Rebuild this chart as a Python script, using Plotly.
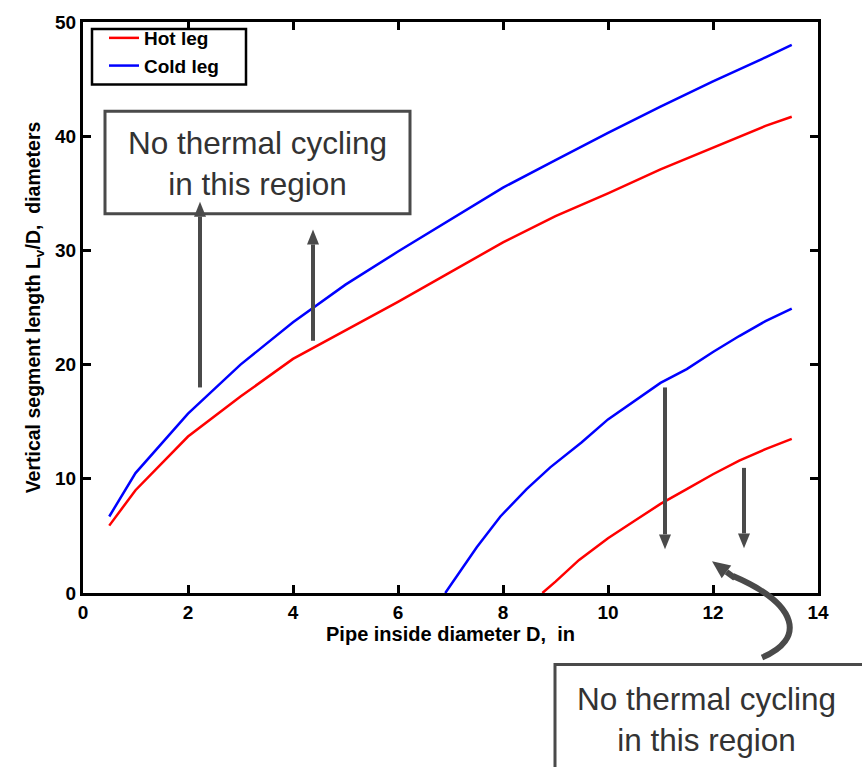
import math
import plotly.graph_objects as go

# ---------------- data ----------------
d_upper = [0.5, 1, 2, 3, 4, 5, 6, 7, 8, 9, 10, 11, 12, 13, 13.5]
hot_upper = [5.9, 9.0, 13.7, 17.2, 20.5, 23.0, 25.5, 28.1, 30.7, 33.0, 35.0, 37.1, 39.0, 40.9, 41.7]
cold_upper = [6.7, 10.5, 15.7, 20.0, 23.7, 27.0, 29.9, 32.7, 35.5, 37.9, 40.3, 42.6, 44.8, 46.9, 48.0]

d_cold_lower = [6.9, 7.5, 7.95, 8.45, 8.9, 9.5, 10.0, 10.5, 11.0, 11.5, 12.0, 12.5, 13.0, 13.5]
cold_lower = [0.0, 4.0, 6.7, 9.1, 11.0, 13.2, 15.2, 16.8, 18.4, 19.6, 21.1, 22.5, 23.8, 24.9]

d_hot_lower = [8.75, 9.0, 9.45, 10.0, 10.5, 11.0, 11.5, 12.0, 12.5, 13.0, 13.5]
hot_lower = [0.0, 1.0, 2.9, 4.8, 6.3, 7.8, 9.1, 10.4, 11.6, 12.6, 13.5]

x_ticks = [0, 2, 4, 6, 8, 10, 12, 14]
y_ticks = [0, 10, 20, 30, 40, 50]

# ---------------- layout geometry ----------------
W, H = 862, 767
ML, MR, MT, MB = 83, 44, 18, 174
PW, PH = W - ML - MR, H - MT - MB


def P(px, py):
    return ((px - ML) / PW, (H - MB - py) / PH)


GRAY = "#4a4a4a"
FONT = "Liberation Sans, Arial, Helvetica, sans-serif"
fig = go.Figure()

fig.add_trace(go.Scatter(
    x=d_upper + [None] + d_hot_lower, y=hot_upper + [None] + hot_lower,
    mode="lines", name="Hot leg", line=dict(color="#ff0000", width=2.5)))
fig.add_trace(go.Scatter(
    x=d_upper + [None] + d_cold_lower, y=cold_upper + [None] + cold_lower,
    mode="lines", name="Cold leg", line=dict(color="#0000ff", width=2.5)))

shapes = []
annotations = []


def box(px0, py0, px1, py1, color=GRAY, width=3):
    x0, y0 = P(px0, py0)
    x1, y1 = P(px1, py1)
    shapes.append(dict(type="rect", xref="paper", yref="paper", x0=x0, y0=y0, x1=x1, y1=y1,
                       line=dict(color=color, width=width), fillcolor="white", layer="above"))


def arrow(px0, py0, px1, py1, width=4, hl=15, hw=6):
    dx, dy = px1 - px0, py1 - py0
    L = math.hypot(dx, dy)
    ux, uy = dx / L, dy / L
    bx, by = px1 - ux * hl, py1 - uy * hl
    a = P(px0, py0)
    b = P(bx, by)
    shapes.append(dict(type="line", xref="paper", yref="paper", x0=a[0], y0=a[1], x1=b[0], y1=b[1],
                       line=dict(color=GRAY, width=width), layer="above"))
    nx, ny = -uy, ux
    t = P(px1, py1)
    c1 = P(bx + nx * hw, by + ny * hw)
    c2 = P(bx - nx * hw, by - ny * hw)
    shapes.append(dict(type="path", xref="paper", yref="paper",
                       path=f"M {t[0]},{t[1]} L {c1[0]},{c1[1]} L {c2[0]},{c2[1]} Z",
                       fillcolor=GRAY, line=dict(color=GRAY, width=0), layer="above"))


# legend frame
box(92, 25, 246, 81, color="black", width=2.5)

# boxes
box(105, 108, 410, 211)
box(555, 665, 880, 790)
for (cx, cy) in [(257, 160), (706, 720)]:
    x, y = P(cx, cy)
    annotations.append(dict(xref="paper", yref="paper", x=x, y=y, showarrow=False,
                            text="No thermal cycling<br>in this region",
                            font=dict(family=FONT, size=31.5, color="#333333"),
                            xanchor="center", yanchor="middle"))

# straight arrows
arrow(200, 386, 200, 199)
arrow(313, 339, 313, 227)
arrow(665, 386, 665, 549)
arrow(744, 467, 744, 548)

# curved arrow
s = P(762, 658)
c1 = P(805, 640)
c2 = P(800, 605)
e = P(733, 576)
shapes.append(dict(type="path", xref="paper", yref="paper",
                   path=f"M {s[0]},{s[1]} C {c1[0]},{c1[1]} {c2[0]},{c2[1]} {e[0]},{e[1]}",
                   line=dict(color=GRAY, width=6), layer="above"))
arrow(735, 578, 712, 561, width=6, hl=18, hw=8)

axis_common = dict(showline=True, linecolor="black", linewidth=3, mirror="ticks",
                   ticks="inside", ticklen=8, tickwidth=2.5, tickcolor="black",
                   showgrid=False, zeroline=False,
                   tickfont=dict(family=FONT, size=19, color="black", weight="bold"))

fig.update_layout(
    width=W, height=H,
    margin=dict(l=ML, r=MR, t=MT, b=MB),
    paper_bgcolor="white", plot_bgcolor="white",
    xaxis=dict(range=[0, 14], tickvals=x_ticks, ticktext=[str(v) for v in x_ticks],
               title=dict(text="Pipe inside diameter D, &nbsp;in", standoff=2,
                          font=dict(family=FONT, size=20, color="black", weight="bold")),
               **axis_common),
    yaxis=dict(range=[0, 50], tickvals=y_ticks, ticktext=[str(v) for v in y_ticks],
               title=dict(text="Vertical segment length L<sub>v</sub>/D, &nbsp;diameters", standoff=10,
                          font=dict(family=FONT, size=19.5, color="black", weight="bold")),
               **axis_common),
    legend=dict(x=P(104, 0)[0], y=P(0, 15)[1], xanchor="left", yanchor="top",
                bgcolor="rgba(0,0,0,0)", borderwidth=0,
                font=dict(family=FONT, size=19, color="black", weight="bold"),
                itemwidth=30, tracegroupgap=0),
    shapes=shapes, annotations=annotations, showlegend=True,
)

fig.write_html("out.html")
